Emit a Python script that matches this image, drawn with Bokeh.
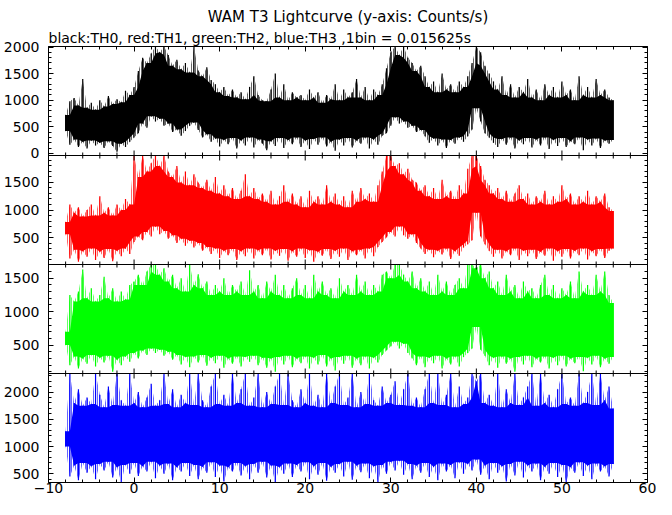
import math
from bokeh.plotting import figure
from bokeh.models import Range1d, LinearAxis, SingleIntervalTicker, FixedTicker, Title, Span
from bokeh.embed import file_html
from bokeh.resources import INLINE

TITLE = "WAM T3 Lightcurve (y-axis: Counts/s)"
SUBTITLE = "black:TH0, red:TH1, green:TH2, blue:TH3 ,1bin = 0.015625s"

# time grid of the envelope samples (s)
T_START = -8.0
T_STEP = 0.5

# upper / lower envelope of the counts/s per 0.5 s
th0_hi = [720,
          980, 1040, 900, 1400, 860, 950, 820, 1000, 880, 1080, 930, 1020, 960, 1180, 1100, 1250,
          1550, 1800, 1700, 1880, 2010, 1900, 2010, 1850, 1650, 1760, 1580, 1700, 1520, 2000, 1560, 1450,
          1620, 1380, 1300, 1150, 1250, 1080, 1200, 1050, 1150, 1020, 1250, 1450, 1100, 1000, 980, 1200,
          1500, 1050, 1300, 1000, 1150, 1050, 1100, 1000, 1200, 1050, 1150, 950, 1100, 1020, 1300, 1000,
          1200, 1050, 1150, 1400, 1050, 1250, 1000, 1200, 1100, 1300, 1600, 1900, 2010, 1850, 2010, 1800,
          1700, 1550, 1650, 1450, 1250, 1350, 1150, 1500, 1200, 1300, 1150, 1350, 1250, 1450, 1700, 2010,
          1900, 1650, 1500, 1350, 1200, 1450, 1100, 1300, 1050, 1250, 1150, 1400, 1050, 1200, 1000, 1300,
          1100, 1250, 1050, 1350, 1100, 1200, 1000, 1450, 1100, 1250, 1050, 1400, 1100, 1200, 1050, 1000]
th0_lo = [420,
          160, 260, 120, 220, 90, 240, 150, 200, 100, 230, 140, 30, 180, 120, 220, 300,
          380, 560, 480, 700, 600, 650, 520, 560, 400, 450, 330, 420, 520, 580, 440, 300,
          360, 220, 280, 130, 250, 170, 290, 90, 240, 150, 300, 110, 260, 180, 60, 230,
          140, 290, 100, 250, 170, 300, 120, 240, 80, 270, 160, 300, 130, 220, 50, 260,
          150, 290, 110, 240, 180, 300, 90, 260, 160, 330, 380, 520, 680, 560, 600, 480,
          520, 400, 440, 320, 200, 280, 150, 260, 100, 250, 180, 300, 220, 320, 450, 850,
          600, 380, 300, 200, 120, 270, 160, 300, 90, 240, 170, 290, 110, 260, 150, 300,
          80, 250, 140, 290, 120, 230, 170, 300, 60, 260, 150, 280, 100, 240, 180, 250]

th1_hi = [780,
          1100, 950, 1050, 880, 1000, 1100, 900, 1250, 950, 1050, 900, 1100, 1000, 1200, 1100, 1990,
          1600, 1990, 1700, 1850, 1990, 1800, 1990, 1700, 1600, 1800, 1500, 1700, 1450, 1650, 1500, 1400,
          1550, 1350, 1600, 1300, 1450, 1250, 1400, 1200, 1350, 1650, 1250, 1400, 1200, 1300, 1150, 1350,
          1100, 1250, 1450, 1150, 1300, 1100, 1250, 1050, 1350, 1150, 1250, 1100, 1450, 1150, 1300, 1100,
          1250, 1050, 1350, 1150, 1400, 1200, 1300, 1150, 1450, 1700, 1990, 1990, 1800, 1850, 1650, 1750,
          1550, 1500, 1350, 1450, 1250, 1400, 1200, 1550, 1250, 1350, 1200, 1450, 1300, 1750, 1990, 1990,
          1800, 1550, 1450, 1300, 1400, 1200, 1350, 1150, 1300, 1450, 1200, 1300, 1100, 1250, 1150, 1350,
          1100, 1250, 1150, 1450, 1200, 1300, 1100, 1250, 1150, 1350, 1100, 1250, 1150, 1300, 1050, 980]
th1_lo = [560,
          120, 280, 60, 250, 150, 300, 90, 240, 130, 290, 70, 260, 160, 300, 200, 420,
          520, 450, 600, 520, 700, 560, 620, 480, 540, 400, 480, 350, 440, 320, 400, 260,
          330, 200, 300, 130, 260, 180, 290, 90, 250, 160, 300, 120, 270, 180, 300, 100,
          260, 170, 290, 80, 250, 150, 300, 130, 270, 60, 240, 170, 290, 110, 260, 150,
          300, 90, 250, 180, 280, 120, 300, 160, 330, 420, 500, 600, 520, 700, 540, 480,
          560, 400, 300, 200, 280, 140, 260, 190, 300, 110, 250, 170, 320, 380, 450, 950,
          520, 380, 260, 150, 280, 120, 250, 180, 300, 90, 260, 160, 280, 110, 240, 170,
          300, 80, 250, 150, 290, 120, 260, 180, 300, 100, 250, 160, 290, 130, 260, 300]

th2_hi = [700,
          1250, 1150, 1300, 1630, 1200, 1350, 1150, 1250, 1520, 1200, 1350, 1150, 1300, 1180, 1400, 1450,
          1550, 1400, 1600, 1705, 1705, 1550, 1650, 1450, 1550, 1350, 1500, 1300, 1705, 1400, 1560, 1350,
          1450, 1250, 1400, 1300, 1500, 1250, 1400, 1300, 1450, 1250, 1620, 1300, 1400, 1200, 1450, 1300,
          1550, 1250, 1400, 1200, 1350, 1500, 1250, 1400, 1200, 1550, 1300, 1450, 1250, 1350, 1200, 1500,
          1300, 1400, 1250, 1550, 1300, 1450, 1250, 1400, 1300, 1550, 1600, 1500, 1705, 1705, 1550, 1450,
          1600, 1350, 1500, 1300, 1450, 1250, 1550, 1300, 1450, 1250, 1400, 1500, 1350, 1705, 1705, 1650,
          1705, 1500, 1600, 1350, 1450, 1250, 1550, 1300, 1400, 1200, 1450, 1300, 1350, 1200, 1400, 1550,
          1250, 1400, 1200, 1350, 1250, 1450, 1200, 1600, 1300, 1400, 1250, 1550, 1300, 1600, 1250, 1130]
th2_lo = [500,
          200, 330, 150, 300, 220, 350, 180, 310, 240, 340, 100, 280, 200, 330, 250, 380,
          300, 420, 350, 450, 380, 430, 340, 400, 280, 350, 210, 320, 170, 330, 240, 350,
          190, 310, 230, 340, 160, 300, 220, 330, 180, 320, 250, 340, 200, 310, 160, 300,
          100, 320, 210, 340, 170, 300, 230, 330, 150, 310, 210, 350, 180, 300, 120, 320,
          220, 340, 160, 300, 200, 330, 150, 310, 240, 350, 420, 480, 550, 450, 520, 380,
          300, 200, 330, 170, 310, 230, 340, 150, 300, 210, 330, 180, 320, 380, 450, 770,
          430, 340, 200, 310, 160, 330, 220, 300, 100, 320, 210, 340, 170, 300, 240, 330,
          150, 310, 200, 340, 180, 300, 230, 320, 110, 310, 210, 340, 170, 300, 220, 320]

th3_hi = [1280,
          2340, 1800, 2050, 1750, 1900, 1780, 2340, 1950, 1720, 2100, 1760, 2340, 1850, 1750, 2340, 1800,
          2000, 1720, 1900, 2150, 1750, 1850, 2340, 1780, 2050, 1720, 1950, 1800, 2340, 1760, 2340, 1850,
          1720, 2100, 2340, 1780, 1950, 1750, 2340, 1800, 2050, 2340, 1750, 1900, 2340, 1720, 2000, 1780,
          2100, 2340, 1760, 2340, 1850, 1720, 2050, 1800, 2340, 1750, 1950, 1720, 2340, 1800, 2100, 2340,
          1760, 1900, 2340, 1720, 2000, 1780, 2340, 1850, 1750, 2100, 1800, 1950, 2200, 1760, 2050, 2340,
          1750, 1900, 1720, 2050, 2340, 1800, 2340, 1760, 1950, 2340, 1720, 2100, 1780, 1900, 2340, 2200,
          2340, 1800, 1950, 1750, 2340, 1720, 2050, 1800, 2340, 1760, 1900, 2100, 2340, 1750, 2340, 1800,
          1950, 1720, 2050, 2340, 1780, 1900, 1750, 2340, 1800, 2000, 2340, 1760, 2340, 1850, 2100, 1700]
th3_lo = [1000,
          450, 650, 380, 700, 520, 640, 400, 680, 560, 720, 430, 620, 350, 660, 500, 700,
          460, 640, 540, 720, 420, 650, 500, 690, 380, 620, 540, 700, 460, 660, 400, 630,
          520, 710, 440, 650, 360, 620, 540, 700, 470, 640, 400, 680, 520, 720, 430, 650,
          350, 620, 500, 690, 440, 660, 540, 710, 400, 640, 480, 700, 370, 630, 520, 680,
          450, 720, 390, 650, 530, 690, 420, 640, 350, 660, 500, 720, 560, 740, 480, 680,
          400, 650, 520, 700, 440, 630, 380, 690, 540, 660, 420, 710, 500, 680, 560, 760,
          480, 650, 400, 700, 520, 640, 360, 680, 470, 720, 430, 650, 540, 690, 380, 630,
          500, 700, 440, 660, 350, 620, 520, 710, 460, 650, 400, 690, 540, 640, 450, 680]

series_hi = [th0_hi, th1_hi, th2_hi, th3_hi]
series_lo = [th0_lo, th1_lo, th2_lo, th3_lo]
series_colors = ["#000000", "#ff0000", "#00ff00", "#0000ff"]
y_ranges = [(-40, 2010), (10, 1990), (75, 1705), (340, 2340)]
x_range = (-10, 60)
X_MAJOR, X_MINOR = 10, 2
Y_MAJOR, Y_MINOR = 500, 100
x_tick_labels = {-10: "\u221210"}

FONT = "DejaVu Sans"
N = len(y_ranges)
time_s = [T_START + T_STEP * i for i in range(len(th0_hi))]


def to_u(k, v):
    """map a value of panel k (0 = top) into the stacked coordinate"""
    lo, hi = y_ranges[k]
    v = min(max(v, lo), hi)
    return (N - 1 - k) + (v - lo) / (hi - lo)


p = figure(width=656, height=499, x_range=Range1d(*x_range), y_range=Range1d(0, N),
           output_backend="svg", toolbar_location=None, title=None,
           x_axis_type=None, y_axis_type=None,
           min_border_left=45, min_border_right=9, min_border_top=46, min_border_bottom=17)
p.outline_line_color = "black"
p.outline_line_width = 1
p.background_fill_color = "white"
p.border_fill_color = "white"
p.xgrid.visible = False
p.ygrid.visible = False

# ---- data: noisy outer envelope (thin spikes) + dense core band
for k in range(N):
    hi, lo = series_hi[k], series_lo[k]
    n = len(hi)
    core_hi = [min(hi[max(i - 1, 0):i + 2]) for i in range(n)]
    core_lo = [max(lo[max(i - 1, 0):i + 2]) for i in range(n)]
    core_hi = [max(a, b) for a, b in zip(core_hi, core_lo)]
    y_lo = [to_u(k, v) for v in lo]
    y_hi = [to_u(k, v) for v in hi]
    p.varea(x=time_s, y1=y_lo, y2=y_hi, fill_alpha=0,
            hatch_pattern="vertical_line", hatch_color=series_colors[k],
            hatch_scale=2, hatch_weight=1.2, hatch_alpha=1.0)
    p.varea(x=time_s, y1=[to_u(k, v) for v in core_lo], y2=[to_u(k, v) for v in core_hi],
            fill_color=series_colors[k])
    p.segment(x0=time_s, x1=time_s, y0=y_lo, y1=y_hi,
              line_color=series_colors[k], line_width=1.2)

# ---- y ticks for every panel
y_major, y_minor, y_labels = [], [], {}
for k, (lo, hi) in enumerate(y_ranges):
    for v in range(0, 3000, Y_MINOR):
        if lo <= v <= hi:
            u = to_u(k, v)
            if v % Y_MAJOR == 0:
                y_major.append(u)
                y_labels[u] = str(v)
            else:
                y_minor.append(u)


def style_axis(ax, show_labels):
    ax.axis_line_color = None
    ax.major_tick_in = 5
    ax.major_tick_out = 0
    ax.minor_tick_in = 3
    ax.minor_tick_out = 0
    ax.major_tick_line_color = "black"
    ax.minor_tick_line_color = "black"
    if show_labels:
        ax.major_label_text_font = FONT
        ax.major_label_text_font_size = "14px"
        ax.major_label_text_color = "black"
    else:
        ax.major_label_text_font_size = "0px"
        ax.major_label_standoff = 0


left = LinearAxis(ticker=FixedTicker(ticks=y_major, minor_ticks=y_minor))
style_axis(left, True)
left.major_label_standoff = 9
left.major_label_overrides = y_labels
p.add_layout(left, "left")
right = LinearAxis(ticker=FixedTicker(ticks=y_major, minor_ticks=y_minor))
style_axis(right, False)
p.add_layout(right, "right")

below = LinearAxis(ticker=SingleIntervalTicker(interval=X_MAJOR, num_minor_ticks=X_MAJOR // X_MINOR))
style_axis(below, True)
below.major_label_standoff = 0
below.major_label_overrides = x_tick_labels
p.add_layout(below, "below")
above = LinearAxis(ticker=SingleIntervalTicker(interval=X_MAJOR, num_minor_ticks=X_MAJOR // X_MINOR))
style_axis(above, False)
p.add_layout(above, "above")

# ---- panel boundaries with inward ticks on both sides
xt_major = list(range(x_range[0], x_range[1] + 1, X_MAJOR))
xt_minor = [v for v in range(x_range[0], x_range[1] + 1, X_MINOR) if v % X_MAJOR != 0]
for b in range(1, N):
    p.add_layout(Span(location=b, dimension="width", line_color="black", line_width=1))
    p.scatter(x=xt_major, y=[b] * len(xt_major), marker="dash", angle=math.pi / 2,
              size=10, line_color="black", line_width=1)
    p.scatter(x=xt_minor, y=[b] * len(xt_minor), marker="dash", angle=math.pi / 2,
              size=6, line_color="black", line_width=1)

p.add_layout(Title(text=SUBTITLE, align="left", text_font=FONT, text_font_size="14px",
                   text_font_style="normal", text_color="black", standoff=1), "above")
p.add_layout(Title(text=TITLE, align="center", text_font=FONT, text_font_size="15px",
                   text_font_style="normal", text_color="black", standoff=3), "above")

open("out.html", "w").write(file_html(p, INLINE, title="WAM T3 Lightcurve"))
